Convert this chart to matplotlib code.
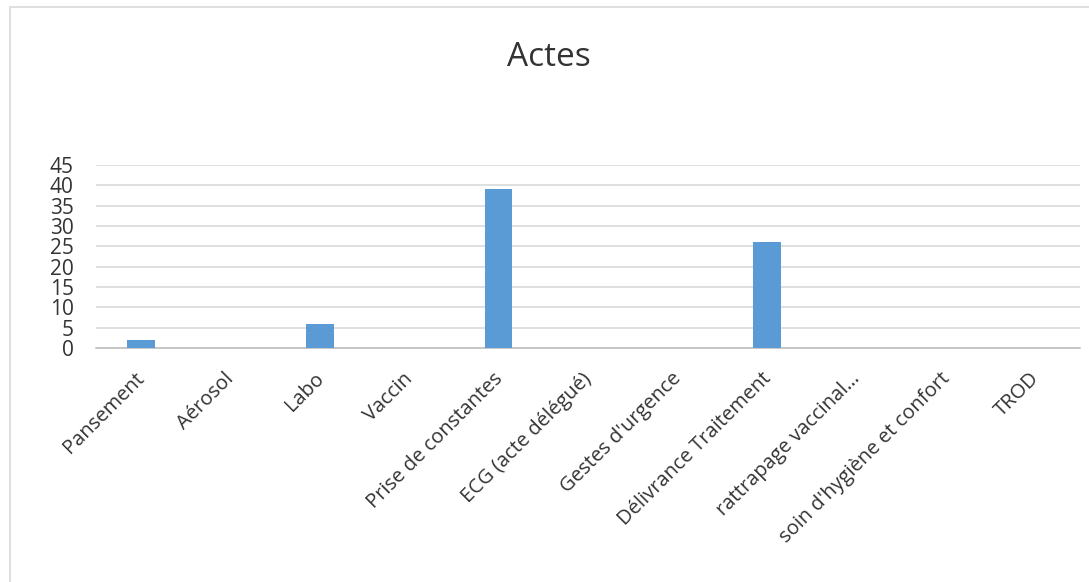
import matplotlib
matplotlib.use("Agg")
import matplotlib.pyplot as plt
import matplotlib.transforms as mtransforms
from matplotlib.patches import Rectangle

categories = ["Pansement", "Aérosol", "Labo", "Vaccin", "Prise de constantes",
              "ECG (acte délégué)", "Gestes d'urgence", "Délivrance Traitement",
              "rattrapage vaccinal…", "soin d'hygiène et confort", "TROD"]
values = [2, 0, 6, 0, 39, 0, 0, 26, 0, 0, 0]
y_ticks = [0, 5, 10, 15, 20, 25, 30, 35, 40, 45]

plt.rcParams["font.family"] = ["Open Sans", "DejaVu Sans"]

W, H = 1089, 582
fig = plt.figure(figsize=(W / 100, H / 100), dpi=100)
ax = fig.add_axes([96 / W, 1 - 348 / H, (1080 - 96) / W, (348 - 165) / H])

x = range(len(categories))
ax.bar(x, values, width=0.31, color="#5b9bd5", zorder=3)

ax.set_xlim(-0.5, len(categories) - 0.5)
ax.set_ylim(0, 45)
ax.set_yticks(y_ticks)
ax.set_yticklabels([str(v) for v in y_ticks], fontsize=15, color="#333333")
ax.set_xticks(list(x))
ax.set_xticklabels(categories, rotation=45, ha="right", rotation_mode="anchor",
                   fontsize=14.5, color="#333333")
ax.tick_params(axis="both", length=0)
ax.tick_params(axis="y", pad=16)
ax.tick_params(axis="x", pad=15)
shift = mtransforms.ScaledTranslation(-6 / 100, 0, fig.dpi_scale_trans)
for lab in ax.get_xticklabels():
    lab.set_transform(lab.get_transform() + shift)
ax.grid(axis="y", color="#d9d9d9", linewidth=1.2, zorder=0)
for side in ["top", "right", "left"]:
    ax.spines[side].set_visible(False)
ax.spines["bottom"].set_color("#bfbfbf")
ax.spines["bottom"].set_linewidth(1.2)

fig.text(549 / W, 1 - 58 / H, "Actes", ha="center", va="center", fontsize=24, color="#333333")

fig.patches.append(Rectangle((10 / W, -0.1), 1.2, 1 - 7 / H + 0.1, transform=fig.transFigure,
                             fill=False, edgecolor="#d9d9d9", linewidth=1.2))

fig.savefig("out.png", dpi=100)
